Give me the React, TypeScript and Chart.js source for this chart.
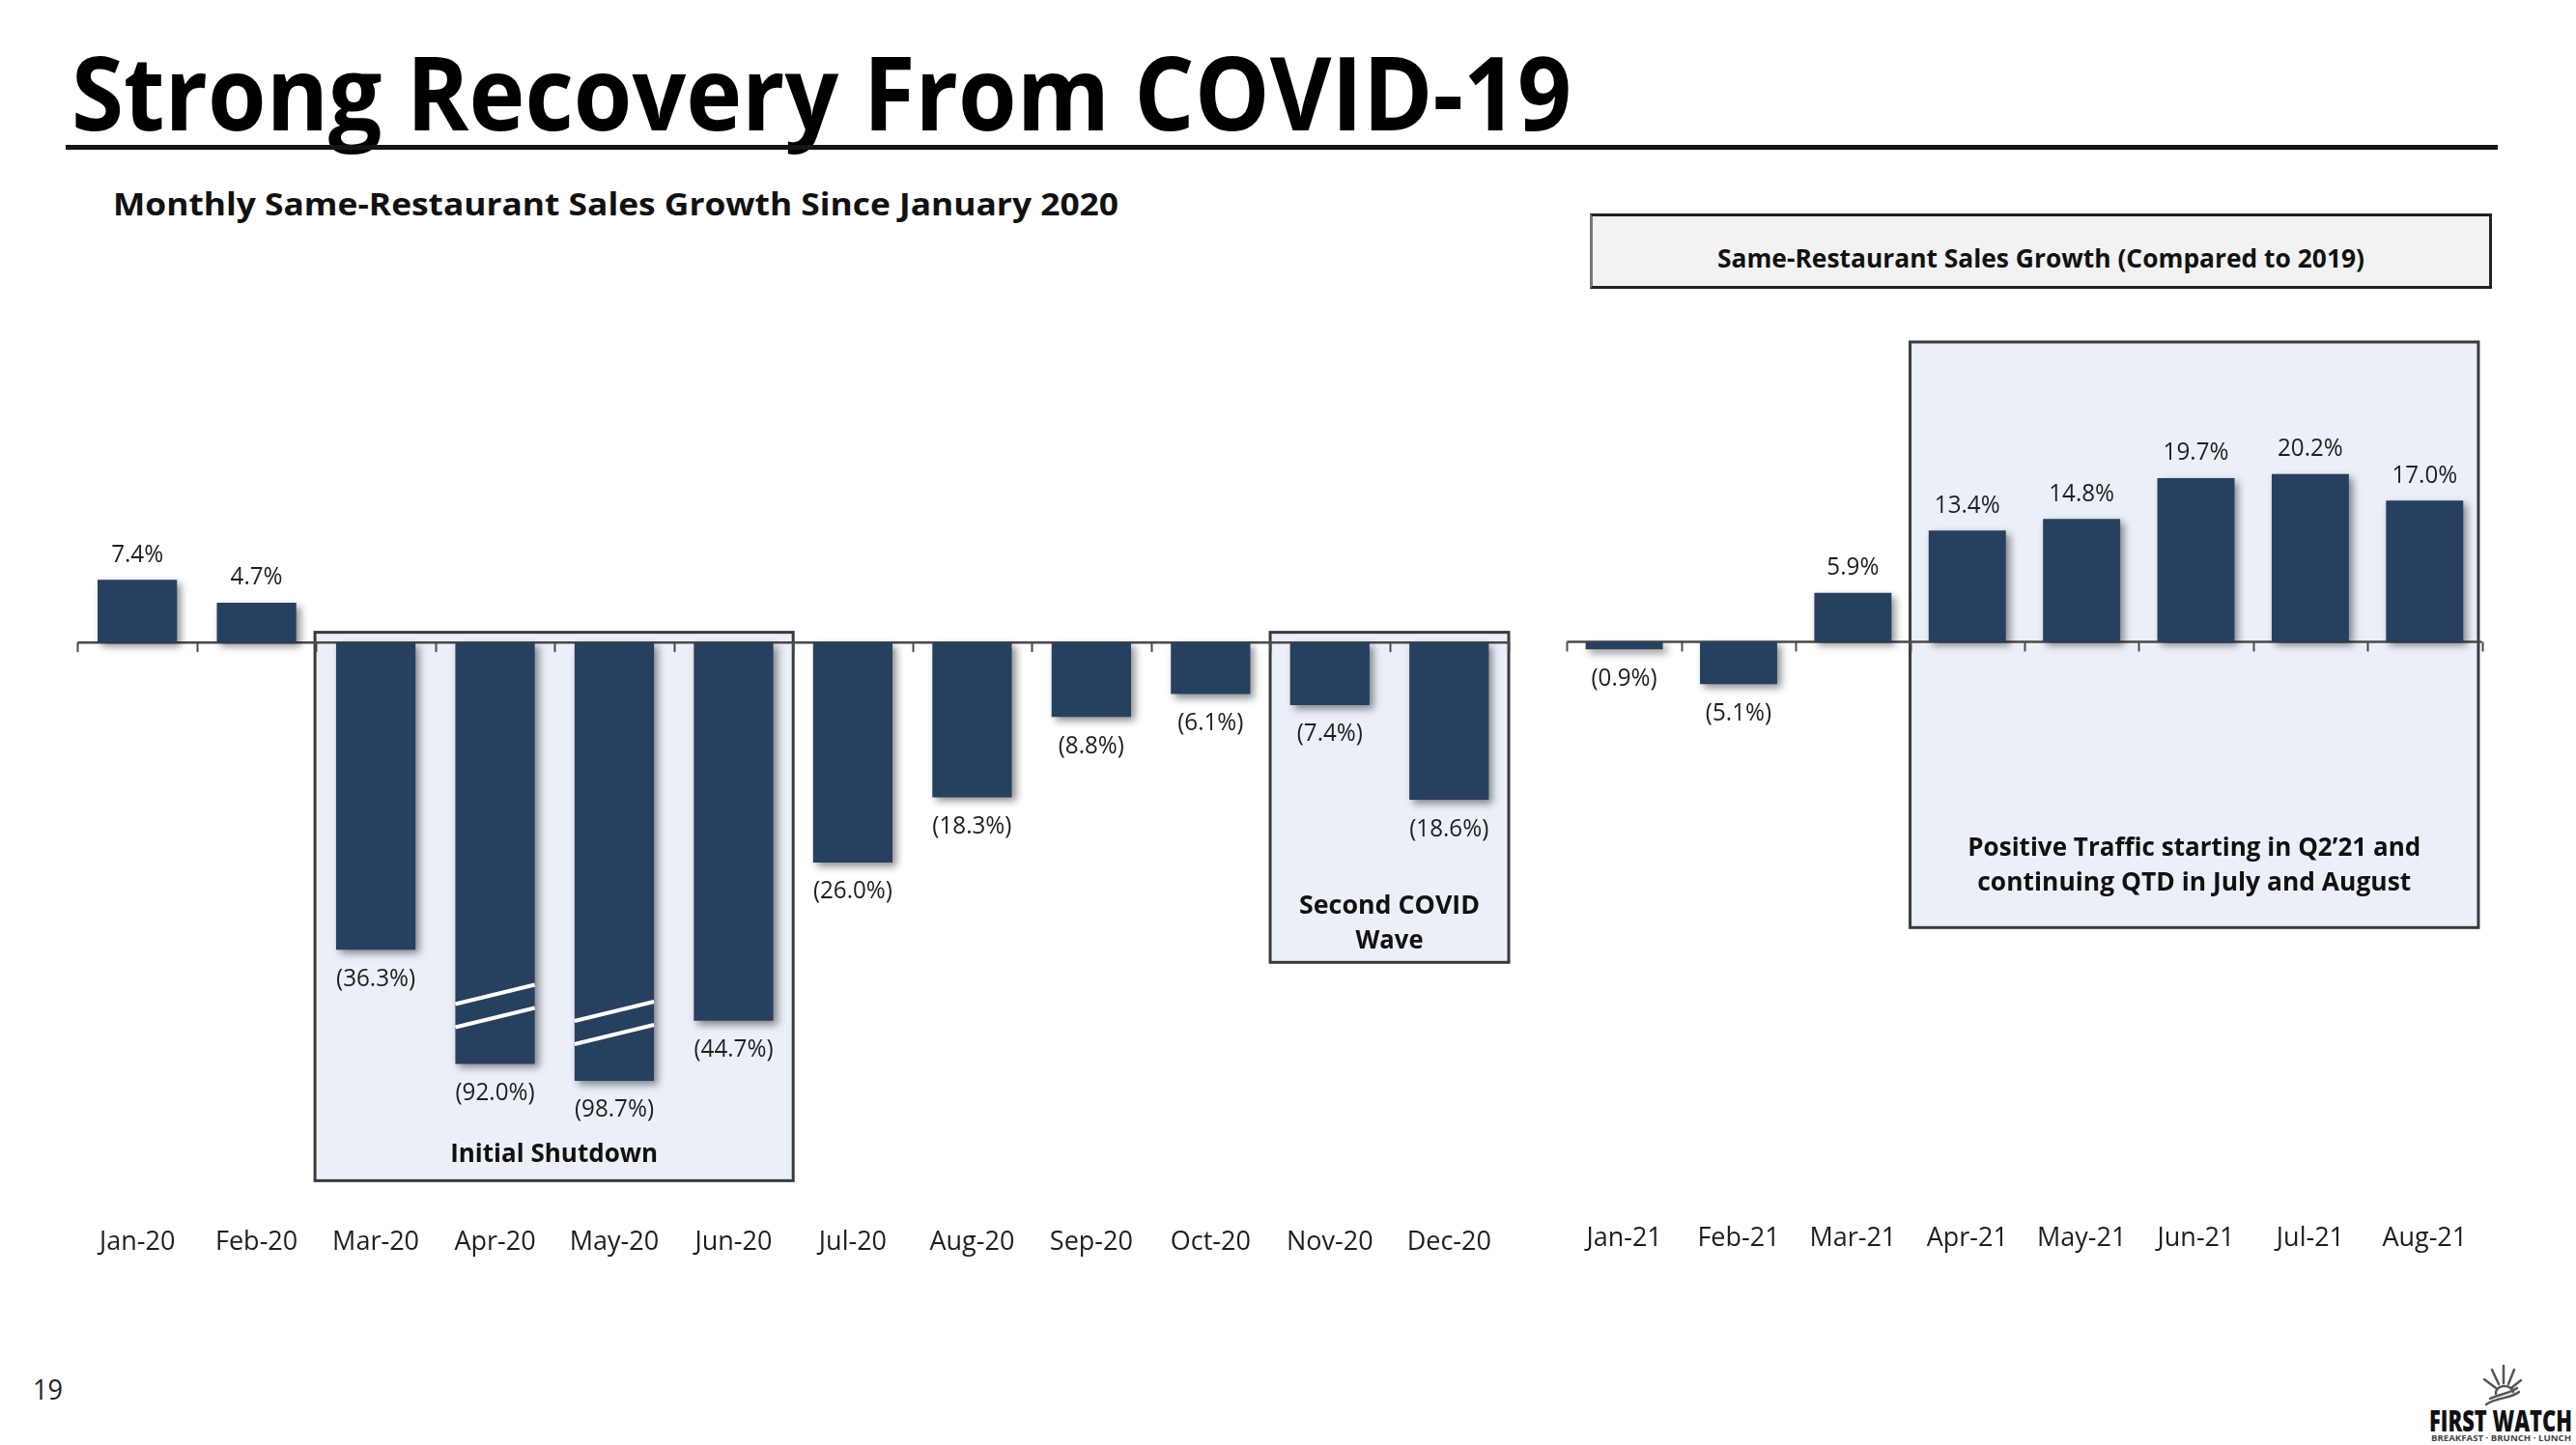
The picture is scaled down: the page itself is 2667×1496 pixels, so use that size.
import React, { useEffect, useRef } from "react";
import { Chart, registerables } from "chart.js";

Chart.register(...registerables);
Chart.defaults.font.family = '"Open Sans", "Noto Sans", sans-serif';

// ---------------- data ----------------
const months2020 = ["Jan-20", "Feb-20", "Mar-20", "Apr-20", "May-20", "Jun-20", "Jul-20", "Aug-20", "Sep-20", "Oct-20", "Nov-20", "Dec-20"];
const growth2020 = [7.4, 4.7, -36.3, -92.0, -98.7, -44.7, -26.0, -18.3, -8.8, -6.1, -7.4, -18.6];
// drawn length of the bars: Apr-20 and May-20 are broken (shortened) bars in the picture
const barLength2020 = [7.4, 4.7, -36.3, -49.8, -51.8, -44.7, -26.0, -18.3, -8.8, -6.1, -7.4, -18.6];
const brokenBars2020 = [3, 4];

const months2021 = ["Jan-21", "Feb-21", "Mar-21", "Apr-21", "May-21", "Jun-21", "Jul-21", "Aug-21"];
const growth2021 = [-0.9, -5.1, 5.9, 13.4, 14.8, 19.7, 20.2, 17.0];

// ---------------- styles ----------------
const NAVY = "#27405f";
const BOX_FILL = "#ebeff7";
const FONT = '"Open Sans", "Noto Sans", sans-serif';

type BoxText = { s: string; at: number; w: number };
type Box = { from: number; to: number; top: number; bottom: number; text: BoxText[] };

const boxes2020: Box[] = [
  { from: 1.49, to: 5.5, top: 1.2, bottom: -63.6, text: [{ s: "Initial Shutdown", at: -60.5, w: 215 }] },
  {
    from: 9.5, to: 11.5, top: 1.2, bottom: -37.8,
    text: [
      { s: "Second COVID", at: -31.2, w: 187 },
      { s: "Wave", at: -35.3, w: 70 },
    ],
  },
];
const boxes2021: Box[] = [
  {
    from: 2.5, to: 7.47, top: 36.1, bottom: -34.4,
    text: [
      { s: "Positive Traffic starting in Q2\u201921 and", at: -24.9, w: 469 },
      { s: "continuing QTD in July and August", at: -29.1, w: 449 },
    ],
  },
];

// ---------------- helpers ----------------
let mctx: CanvasRenderingContext2D | null = null;
function measure(text: string, font: string) {
  if (!mctx) mctx = document.createElement("canvas").getContext("2d");
  mctx!.font = font;
  return mctx!.measureText(text).width || 1;
}

function drawScaled(ctx: CanvasRenderingContext2D, s: string, cx: number, cy: number, font: string, sx: number, color: string) {
  ctx.save();
  ctx.font = font;
  ctx.fillStyle = color;
  ctx.textAlign = "center";
  ctx.textBaseline = "middle";
  ctx.translate(cx, cy);
  ctx.scale(sx, 1);
  ctx.fillText(s, 0, 0);
  ctx.restore();
}

function fmt(v: number) {
  return v < 0 ? `(${Math.abs(v).toFixed(1)}%)` : `${v.toFixed(1)}%`;
}

function makeDecor(values: number[], boxes: Box[], broken: number[]) {
  return {
    id: "decor",
    beforeDatasetsDraw(chart: any) {
      const { ctx } = chart;
      const x = chart.scales.x;
      const y = chart.scales.y;
      const y0 = y.getPixelForValue(0);
      ctx.save();
      // shaded annotation boxes
      for (const b of boxes) {
        const l = x.getPixelForValue(b.from);
        const r = x.getPixelForValue(b.to);
        const t = y.getPixelForValue(b.top);
        const bt = y.getPixelForValue(b.bottom);
        ctx.fillStyle = BOX_FILL;
        ctx.fillRect(l, t, r - l, bt - t);
        ctx.strokeStyle = "#3a3a3a";
        ctx.lineWidth = 3;
        ctx.strokeRect(l, t, r - l, bt - t);
      }
      // zero axis line with ticks between categories
      ctx.strokeStyle = "#4a4a4a";
      ctx.lineWidth = 2.5;
      ctx.beginPath();
      ctx.moveTo(x.left, y0);
      ctx.lineTo(x.right, y0);
      ctx.stroke();
      ctx.lineWidth = 2;
      for (let i = 0; i <= values.length; i++) {
        const px = Math.round(x.getPixelForValue(i - 0.5)) + 0.5;
        ctx.beginPath();
        ctx.moveTo(px, y0);
        ctx.lineTo(px, y0 + 10);
        ctx.stroke();
      }
      ctx.restore();
      // bar shadow
      ctx.save();
      ctx.shadowColor = "rgba(0,0,0,0.45)";
      ctx.shadowBlur = 8;
      ctx.shadowOffsetX = 4;
      ctx.shadowOffsetY = 4;
    },
    afterDatasetsDraw(chart: any) {
      const { ctx } = chart;
      ctx.restore();
      const x = chart.scales.x;
      const y = chart.scales.y;
      const meta = chart.getDatasetMeta(0);
      // break marks
      ctx.save();
      ctx.strokeStyle = "#ffffff";
      ctx.lineWidth = 4;
      for (const i of broken) {
        const el = meta.data[i];
        const l = el.x - el.width / 2;
        const r = el.x + el.width / 2;
        ctx.beginPath();
        ctx.moveTo(l, el.y - 62);
        ctx.lineTo(r, el.y - 82);
        ctx.moveTo(l, el.y - 38);
        ctx.lineTo(r, el.y - 58);
        ctx.stroke();
      }
      ctx.restore();
      // value labels
      const lf = `400 26px ${FONT}`;
      values.forEach((v, i) => {
        const el = meta.data[i];
        const cy = v >= 0 ? el.y - 26 : el.y + 30;
        drawScaled(ctx, fmt(v), el.x, cy, lf, 0.93, "#1e1e1e");
      });
      // box captions
      const bf = `700 27px ${FONT}`;
      for (const b of boxes) {
        const cx = (x.getPixelForValue(b.from) + x.getPixelForValue(b.to)) / 2;
        for (const t of b.text) {
          const sx = t.w / measure(t.s, bf);
          drawScaled(ctx, t.s, cx, y.getPixelForValue(t.at), bf, sx, "#111");
        }
      }
    },
  };
}

type PanelProps = {
  left: number; top: number; width: number; height: number;
  labels: string[]; values: number[]; drawn: number[]; broken: number[]; boxes: Box[];
  min: number; max: number; padL: number; padR: number; padT: number;
  axisH: number; labelPad: number; barPct: number;
};

function BarPanel(p: PanelProps) {
  const ref = useRef<HTMLCanvasElement>(null);
  useEffect(() => {
    const chart = new Chart(ref.current as HTMLCanvasElement, {
      type: "bar",
      data: {
        labels: p.labels,
        datasets: [
          {
            data: p.drawn,
            backgroundColor: NAVY,
            borderWidth: 0,
            barPercentage: p.barPct,
            categoryPercentage: 1,
          },
        ],
      },
      options: {
        animation: false,
        responsive: false,
        maintainAspectRatio: false,
        devicePixelRatio: 1,
        layout: { padding: { left: p.padL, right: p.padR, top: p.padT, bottom: 0 } },
        plugins: { legend: { display: false }, tooltip: { enabled: false }, title: { display: false } },
        scales: {
          x: {
            grid: { display: false, drawTicks: false },
            border: { display: false },
            ticks: { color: "#1e1e1e", font: { size: 27, family: FONT }, padding: p.labelPad, maxRotation: 0, autoSkip: false },
            afterFit: (s: any) => { s.height = p.axisH; s.paddingLeft = 0; s.paddingRight = 0; },
          },
          y: { display: false, min: p.min, max: p.max },
        },
      },
      plugins: [makeDecor(p.values, p.boxes, p.broken) as any],
    });
    return () => chart.destroy();
  }, []);
  return (
    <canvas
      ref={ref}
      width={p.width}
      height={p.height}
      style={{ position: "absolute", left: p.left, top: p.top, width: p.width, height: p.height }}
    />
  );
}

type FitProps = { text: string; x: number; cy: number; w: number; size: number; weight?: number; color?: string; center?: boolean };
function FitText({ text, x, cy, w, size, weight = 400, color = "#000", center = false }: FitProps) {
  const sx = w / measure(text, `${weight} ${size}px ${FONT}`);
  return (
    <div
      style={{
        position: "absolute",
        left: center ? x - w / 2 : x,
        top: cy - 0.531 * size,
        fontFamily: FONT,
        fontSize: size,
        fontWeight: weight,
        lineHeight: `${size}px`,
        height: size,
        color,
        whiteSpace: "nowrap",
        transform: `scaleX(${sx})`,
        transformOrigin: "left center",
      }}
    >
      {text}
    </div>
  );
}

export default function App() {
  return (
    <div style={{ position: "relative", width: 2667, height: 1496, background: "#fff", overflow: "hidden" }}>
      <style>{`html,body{margin:0;padding:0;background:#fff;}`}</style>

      <FitText text="Strong Recovery From COVID-19" x={74} cy={97.5} w={1553} size={105} weight={700} color="#000" />
      <div style={{ position: "absolute", left: 68, top: 150, width: 2518, height: 5, background: "#151515" }} />
      <FitText text="Monthly Same-Restaurant Sales Growth Since January 2020" x={117} cy={211.5} w={1041} size={32} weight={700} color="#111" />

      <div
        style={{
          position: "absolute", left: 1646, top: 221, width: 934, height: 78, boxSizing: "border-box",
          background: "#f2f2f2", border: "3px solid #222", borderLeftColor: "#777",
        }}
      />
      <FitText text="Same-Restaurant Sales Growth (Compared to 2019)" x={2113} center cy={267} w={670} size={27} weight={700} color="#111" />

      <BarPanel
        left={0} top={500} width={1600} height={850}
        labels={months2020} values={growth2020} drawn={barLength2020} broken={brokenBars2020} boxes={boxes2020}
        min={-66.63} max={12} padL={80.4} padR={38} padT={60} axisH={101.1} labelPad={21} barPct={0.666}
      />
      <BarPanel
        left={1600} top={300} width={1067} height={1050}
        labels={months2021} values={growth2021} drawn={growth2021} broken={[]} boxes={boxes2021}
        min={-67.55} max={40} padL={22.4} padR={97.5} padT={20.5} axisH={104.6} labelPad={21} barPct={0.675}
      />

      <FitText text="19" x={34} cy={1439} w={31} size={30} weight={400} color="#222" />

      <svg style={{ position: "absolute", left: 2566, top: 1410, width: 50, height: 46 }} viewBox="0 0 50 46">
        <g stroke="#555" strokeWidth="2.5" strokeLinecap="round" fill="none">
          <line x1="26" y1="22" x2="26" y2="4" />
          <line x1="21" y1="23" x2="14" y2="8" />
          <line x1="31" y1="23" x2="37" y2="8" />
          <line x1="18" y1="27" x2="6" y2="18" />
          <line x1="34" y1="27" x2="44" y2="19" />
          <path d="M18 33 A9 7 0 0 1 36 31" />
          <path d="M42 31 C34 38 20 36 8 44" />
          <path d="M40 27 C32 33 22 33 12 38" />
        </g>
      </svg>
      <FitText text="FIRST WATCH" x={2589} center cy={1472} w={148} size={30} weight={800} color="#111" />
      <FitText text="BREAKFAST · BRUNCH · LUNCH" x={2589} center cy={1489} w={145} size={8} weight={700} color="#444" />
    </div>
  );
}
